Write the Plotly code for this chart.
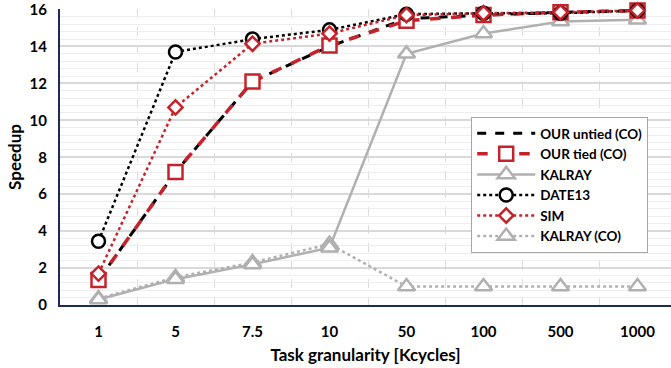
import plotly.graph_objects as go

categories = ["1", "5", "7.5", "10", "50", "100", "500", "1000"]
our_untied = [1.35, 7.2, 12.1, 14.0, 15.5, 15.7, 15.85, 15.95]
our_tied = [1.35, 7.2, 12.1, 14.05, 15.4, 15.7, 15.85, 15.95]
kalray = [0.3, 1.4, 2.2, 3.1, 13.6, 14.7, 15.35, 15.45]
date13 = [3.45, 13.7, 14.4, 14.9, 15.75, 15.8, 15.8, 15.95]
sim = [1.7, 10.7, 14.15, 14.7, 15.7, 15.8, 15.85, 15.95]
kalray_co = [0.35, 1.5, 2.3, 3.3, 1.0, 1.0, 1.0, 1.0]
y_ticks = [0, 2, 4, 6, 8, 10, 12, 14, 16]

x = list(range(len(categories)))
FONT = "Lato, Carlito, 'Open Sans', sans-serif"

fig = go.Figure()

def add(name, y, color, dash, width, symbol, msize, mwidth, rank, mode="lines+markers"):
    fig.add_trace(go.Scatter(
        x=x, y=y, name=name, mode=mode,
        line=dict(color=color, dash=dash, width=width),
        marker=dict(symbol=symbol, size=msize, color="white",
                    line=dict(color=color, width=mwidth)),
        legendrank=rank, cliponaxis=False,
    ))

add("KALRAY (CO)", kalray_co, "#b0b0b0", "dot", 2.5, "triangle-up", 15, 2.5, 6)
add("KALRAY", kalray, "#b0b0b0", "solid", 2.5, "triangle-up", 15, 2.5, 3)
add("OUR untied (CO)", our_untied, "#000000", "dash", 3, "square", 14, 2.5, 1, mode="lines")
add("OUR tied (CO)", our_tied, "#c5232b", "dash", 3.5, "square", 14, 2.5, 2)
add("DATE13", date13, "#000000", "dot", 2.5, "circle", 13, 2.5, 4)
add("SIM", sim, "#c5232b", "dot", 2.5, "diamond", 11, 2.5, 5)

fig.update_layout(
    width=671, height=368,
    margin=dict(l=60, r=0, t=9, b=63),
    plot_bgcolor="white", paper_bgcolor="white",
    font=dict(family=FONT, color="#000000"),
    showlegend=True,
    legend=dict(
        x=0.673, y=0.635, xanchor="left", yanchor="top",
        bgcolor="white", bordercolor="#a6a6a6", borderwidth=1,
        font=dict(family=FONT, size=13.5, color="#000000", weight="bold"),
        tracegroupgap=0, itemwidth=58,
    ),
)

fig.update_xaxes(
    range=[-0.5, 7.435], automargin=False,
    tickvals=x, ticktext=categories,
    showgrid=False,
    minor=dict(tick0=0.5, dtick=1, showgrid=True, gridcolor="#dcdcdc",
               griddash="dash", gridwidth=1),
    showline=True, linecolor="#1f2a5c", linewidth=2,
    ticks="", ticklabelstandoff=12,
    tickfont=dict(family=FONT, size=15, color="#000000", weight="bold"),
    title=dict(text="Task granularity [Kcycles]", standoff=10,
               font=dict(family=FONT, size=17, color="#000000", weight="bold")),
    zeroline=False,
)

fig.update_yaxes(
    range=[0, 16.03], tickvals=y_ticks, ticktext=[str(v) for v in y_ticks],
    automargin=False, ticklabeloverflow="allow",
    showgrid=True, gridcolor="#d9d9d9", gridwidth=1.5,
    minor=dict(tick0=0, dtick=0.4, showgrid=True, gridcolor="#eeeeee", gridwidth=1),
    showline=True, linecolor="#1f2a5c", linewidth=2,
    ticks="", ticklabelstandoff=8,
    tickfont=dict(family=FONT, size=15, color="#000000", weight="bold"),
    title=dict(text="Speedup", standoff=4,
               font=dict(family=FONT, size=17, color="#000000", weight="bold")),
    zeroline=False,
)

# remove the browser's default 8px body margin so the figure fills the window
fig.write_html("out.html", config={"displayModeBar": False},
               post_script="document.body.style.margin='0';")
